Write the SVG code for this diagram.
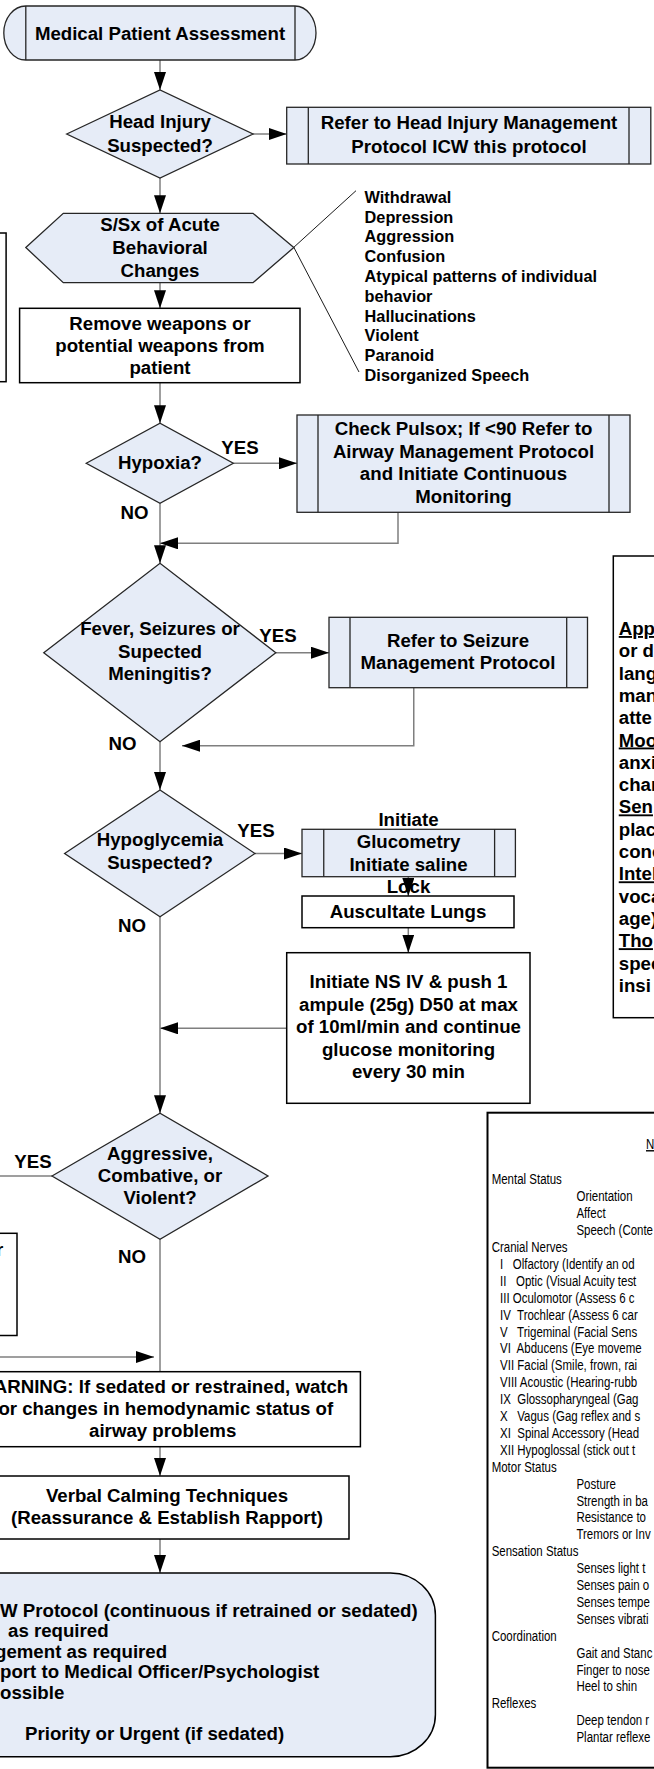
<svg xmlns="http://www.w3.org/2000/svg" width="654" height="1769" viewBox="0 0 654 1769">
<style>
.n{fill:#e6ecf7;stroke:#262626;stroke-width:1.3}
.w{fill:#fff;stroke:#000;stroke-width:1.5}
.il{stroke:#262626;stroke-width:1.3}
.c{fill:none;stroke:#7f7f7f;stroke-width:1.5}
.k{fill:none;stroke:#000;stroke-width:0.9}
text{font-family:"Liberation Sans",Arial,sans-serif;fill:#000}
.t{font-weight:bold;font-size:18.67px;text-anchor:middle}
.tl{font-weight:bold;font-size:18.67px}
.s{font-weight:bold;font-size:16.3px}
.nr{font-size:14px}
</style>
<defs>
<marker id="a" markerWidth="18" markerHeight="12" refX="18" refY="6" orient="auto" markerUnits="userSpaceOnUse"><path d="M0,0 L18,6 L0,12 Z" fill="#000"/></marker>
</defs>

<g id="connectors">
<path class="c" d="M160,60 V90" marker-end="url(#a)"/>
<path class="c" d="M253,134 H286.7" marker-end="url(#a)"/>
<path class="c" d="M160,178 V213.3" marker-end="url(#a)"/>
<path class="c" d="M160,282.7 V308.3" marker-end="url(#a)"/>
<path class="c" d="M160,382.7 V423.3" marker-end="url(#a)"/>
<path class="c" d="M233.3,463.3 H297" marker-end="url(#a)"/>
<path class="c" d="M160,503.3 V563.3" marker-end="url(#a)"/>
<path class="c" d="M398,512.3 V543.3 H160" marker-end="url(#a)"/>
<path class="c" d="M275.8,652.7 H329" marker-end="url(#a)"/>
<path class="c" d="M413.75,687.7 V745.7 H182" marker-end="url(#a)"/>
<path class="c" d="M160,741.7 V790" marker-end="url(#a)"/>
<path class="c" d="M255,853.5 H302" marker-end="url(#a)"/>
<path class="c" d="M408.3,876.7 V896" marker-end="url(#a)"/>
<path class="c" d="M408.3,927.7 V952.7" marker-end="url(#a)"/>
<path class="c" d="M286.7,1028.3 H160" marker-end="url(#a)"/>
<path class="c" d="M160,916.7 V1113.3" marker-end="url(#a)"/>
<path class="c" d="M52,1176 H0"/>
<path class="c" d="M160,1239.3 V1371.7"/>
<path class="c" d="M0,1357 H154" marker-end="url(#a)"/>
<path class="c" d="M160,1446.7 V1476" marker-end="url(#a)"/>
<path class="c" d="M160,1539 V1573" marker-end="url(#a)"/>
<path class="k" d="M356,190.7 L293.8,247.3 L359,372"/>
</g>

<g id="labels">
<text class="t" x="240" y="454">YES</text>
<text class="t" x="134.5" y="519.3">NO</text>
<text class="t" x="278" y="641.7">YES</text>
<text class="t" x="122.5" y="750">NO</text>
<text class="t" x="256" y="836.7">YES</text>
<text class="t" x="132" y="931.7">NO</text>
<text class="t" x="33" y="1167.7">YES</text>
<text class="t" x="132" y="1263.3">NO</text>
</g>

<g id="start">
<path class="n" d="M25.8,6 H295 A21,27 0 0 1 295,60 H25.8 A22,27 0 0 1 25.8,6 Z"/>
<path class="il" d="M25.8,6 V60 M295,6 V60"/>
<text class="t" x="160" y="39.5">Medical Patient Assessment</text>
</g>

<g id="headInjury">
<polygon class="n" points="66.7,134 160,90 253,134 160,178"/>
<text class="t" x="160" y="128">Head Injury</text>
<text class="t" x="160" y="151.5">Suspected?</text>
</g>

<g id="headInjuryProtocol">
<rect class="n" x="286.7" y="107.3" width="364.1" height="56.7"/>
<path class="il" d="M308.3,107.3 V164 M629,107.3 V164"/>
<text class="t" x="469" y="129.3">Refer to Head Injury Management</text>
<text class="t" x="469" y="152.5">Protocol ICW this protocol</text>
</g>

<g id="behavioral">
<polygon class="n" points="25.8,247.5 63.3,213.3 253,213.3 293.8,247.5 253,282.7 63.3,282.7"/>
<text class="t" x="160" y="231">S/Sx of Acute</text>
<text class="t" x="160" y="254">Behavioral</text>
<text class="t" x="160" y="277">Changes</text>
</g>

<g id="behaviorList">
<text class="s" x="364.6" y="202.7">Withdrawal</text>
<text class="s" x="364.6" y="222.5">Depression</text>
<text class="s" x="364.6" y="242.3">Aggression</text>
<text class="s" x="364.6" y="262.1">Confusion</text>
<text class="s" x="364.6" y="281.9">Atypical patterns of individual</text>
<text class="s" x="364.6" y="301.7">behavior</text>
<text class="s" x="364.6" y="321.5">Hallucinations</text>
<text class="s" x="364.6" y="341.3">Violent</text>
<text class="s" x="364.6" y="361.1">Paranoid</text>
<text class="s" x="364.6" y="380.9">Disorganized Speech</text>
</g>

<g id="leftBox1">
<rect class="w" x="-40" y="233" width="46.1" height="148.7"/>
</g>

<g id="removeWeapons">
<rect class="w" x="19.6" y="308.3" width="280.4" height="74.4"/>
<text class="t" x="160" y="329.5">Remove weapons or</text>
<text class="t" x="160" y="351.5">potential weapons from</text>
<text class="t" x="160" y="373.5">patient</text>
</g>

<g id="hypoxia">
<polygon class="n" points="86.25,463.3 160,423.3 233.3,463.3 160,503.3"/>
<text class="t" x="160" y="468.5">Hypoxia?</text>
</g>

<g id="pulsox">
<rect class="n" x="297" y="415" width="333" height="97.3"/>
<path class="il" d="M318,415 V512.3 M609,415 V512.3"/>
<text class="t" x="463.5" y="435">Check Pulsox; If &lt;90 Refer to</text>
<text class="t" x="463.5" y="457.5">Airway Management Protocol</text>
<text class="t" x="463.5" y="480">and Initiate Continuous</text>
<text class="t" x="463.5" y="502.5">Monitoring</text>
</g>

<g id="mentalStatusNotes">
<rect class="w" x="613.3" y="556" width="60" height="461.7"/>
<text class="tl" x="618.75" y="635" text-decoration="underline">App</text>
<text class="tl" x="618.75" y="657.3">or d</text>
<text class="tl" x="618.75" y="679.6">lang</text>
<text class="tl" x="618.75" y="701.9">man</text>
<text class="tl" x="618.75" y="724.2">atte</text>
<text class="tl" x="618.75" y="746.5" text-decoration="underline">Moo</text>
<text class="tl" x="618.75" y="768.8">anxi</text>
<text class="tl" x="618.75" y="791.1">char</text>
<text class="tl" x="618.75" y="813.4" text-decoration="underline">Sen</text>
<text class="tl" x="618.75" y="835.7">plac</text>
<text class="tl" x="618.75" y="858">conc</text>
<text class="tl" x="618.75" y="880.3" text-decoration="underline">Intel</text>
<text class="tl" x="618.75" y="902.6">voca</text>
<text class="tl" x="618.75" y="924.9">age)</text>
<text class="tl" x="618.75" y="947.2" text-decoration="underline">Tho</text>
<text class="tl" x="618.75" y="969.5">spec</text>
<text class="tl" x="618.75" y="991.8">insi</text>
</g>

<g id="fever">
<polygon class="n" points="43.75,652.7 160,563.3 275.8,652.7 160,741.7"/>
<text class="t" x="160" y="635">Fever, Seizures or</text>
<text class="t" x="160" y="657.5">Supected</text>
<text class="t" x="160" y="680">Meningitis?</text>
</g>

<g id="seizure">
<rect class="n" x="329" y="617.3" width="258.5" height="70.4"/>
<path class="il" d="M350,617.3 V687.7 M566.7,617.3 V687.7"/>
<text class="t" x="458" y="646.5">Refer to Seizure</text>
<text class="t" x="458" y="669">Management Protocol</text>
</g>

<g id="hypoglycemia">
<polygon class="n" points="64.6,853.5 160,790 255,853.5 160,916.7"/>
<text class="t" x="160" y="846">Hypoglycemia</text>
<text class="t" x="160" y="869">Suspected?</text>
</g>

<g id="glucometry">
<rect class="n" x="302" y="829.3" width="213.4" height="47.4"/>
<path class="il" d="M323.75,829.3 V876.7 M494.6,829.3 V876.7"/>
<text class="t" x="408.5" y="826">Initiate</text>
<text class="t" x="408.5" y="848">Glucometry</text>
<text class="t" x="408.5" y="871">Initiate saline</text>
<text class="t" x="408.5" y="893">Lock</text>
</g>

<g id="auscultate">
<rect class="w" x="302" y="896" width="212" height="31.7"/>
<text class="t" x="408" y="917.5">Auscultate Lungs</text>
</g>

<g id="nsIV">
<rect class="w" x="286.7" y="952.7" width="243.3" height="150.6"/>
<text class="t" x="408.5" y="988.3">Initiate NS IV &amp; push 1</text>
<text class="t" x="408.5" y="1010.8">ampule (25g) D50 at max</text>
<text class="t" x="408.5" y="1033.3">of 10ml/min and continue</text>
<text class="t" x="408.5" y="1055.8">glucose monitoring</text>
<text class="t" x="408.5" y="1078.3">every 30 min</text>
</g>

<g id="aggressive">
<polygon class="n" points="52,1176 160,1113.3 268,1176 160,1239.3"/>
<text class="t" x="160" y="1160">Aggressive,</text>
<text class="t" x="160" y="1182">Combative, or</text>
<text class="t" x="160" y="1204">Violent?</text>
</g>

<g id="leftBox2">
<rect class="w" x="-40" y="1233.3" width="57" height="102.2"/>
<text class="tl" x="-4" y="1256">r</text>
</g>

<g id="warning">
<rect class="w" x="-35" y="1371.7" width="395.4" height="75"/>
<text class="t" x="162.7" y="1393">WARNING: If sedated or restrained, watch</text>
<text class="t" x="162.7" y="1415">for changes in hemodynamic status of</text>
<text class="t" x="162.7" y="1437">airway problems</text>
</g>

<g id="verbal">
<rect class="w" x="-17" y="1476" width="366" height="63"/>
<text class="t" x="167" y="1501.7">Verbal Calming Techniques</text>
<text class="t" x="167" y="1524.3">(Reassurance &amp; Establish Rapport)</text>
</g>

<g id="monitor">
<rect class="n" x="-60" y="1573" width="495.4" height="183.7" rx="45" ry="42" style="stroke:#000;stroke-width:1.5"/>
<text class="tl" x="0" y="1616.5">W Protocol (continuous if retrained or sedated)</text>
<text class="tl" x="8" y="1637">as required</text>
<text class="tl" x="-5" y="1657.5">gement as required</text>
<text class="tl" x="0" y="1678">port to Medical Officer/Psychologist</text>
<text class="tl" x="0" y="1698.5">ossible</text>
<text class="tl" x="25" y="1739.5">Priority or Urgent (if sedated)</text>
</g>

<g id="neuroExam">
<rect class="w" x="487.5" y="1112.7" width="180" height="655" style="stroke-width:2"/>
<g class="nr" transform="scale(0.82,1)">
<text x="787.8" y="1149" text-decoration="underline">N</text>
<text x="599.6" y="1184.5">Mental Status</text>
<text x="703" y="1201.4">Orientation</text>
<text x="703" y="1218.3">Affect</text>
<text x="703" y="1235.2">Speech (Conte</text>
<text x="599.6" y="1252.1">Cranial Nerves</text>
<text x="609.8" y="1269" xml:space="preserve">I   Olfactory (Identify an od</text>
<text x="609.8" y="1285.9" xml:space="preserve">II   Optic (Visual Acuity test</text>
<text x="609.8" y="1302.8" xml:space="preserve">III Oculomotor (Assess 6 c</text>
<text x="609.8" y="1319.7" xml:space="preserve">IV  Trochlear (Assess 6 car</text>
<text x="609.8" y="1336.6" xml:space="preserve">V   Trigeminal (Facial Sens</text>
<text x="609.8" y="1353.5" xml:space="preserve">VI  Abducens (Eye moveme</text>
<text x="609.8" y="1370.4" xml:space="preserve">VII Facial (Smile, frown, rai</text>
<text x="609.8" y="1387.3" xml:space="preserve">VIII Acoustic (Hearing-rubb</text>
<text x="609.8" y="1404.2" xml:space="preserve">IX  Glossopharyngeal (Gag</text>
<text x="609.8" y="1421.1" xml:space="preserve">X   Vagus (Gag reflex and s</text>
<text x="609.8" y="1438" xml:space="preserve">XI  Spinal Accessory (Head</text>
<text x="609.8" y="1454.9" xml:space="preserve">XII Hypoglossal (stick out t</text>
<text x="599.6" y="1471.8">Motor Status</text>
<text x="703" y="1488.7">Posture</text>
<text x="703" y="1505.6">Strength in ba</text>
<text x="703" y="1522.5">Resistance to</text>
<text x="703" y="1539.4">Tremors or Inv</text>
<text x="599.6" y="1556.3">Sensation Status</text>
<text x="703" y="1573.2">Senses light t</text>
<text x="703" y="1590.1">Senses pain o</text>
<text x="703" y="1607">Senses tempe</text>
<text x="703" y="1623.9">Senses vibrati</text>
<text x="599.6" y="1640.8">Coordination</text>
<text x="703" y="1657.7">Gait and Stanc</text>
<text x="703" y="1674.6">Finger to nose</text>
<text x="703" y="1691.5">Heel to shin</text>
<text x="599.6" y="1708.4">Reflexes</text>
<text x="703" y="1725.3">Deep tendon r</text>
<text x="703" y="1742.2">Plantar reflexe</text>
</g>
</g>
</svg>
